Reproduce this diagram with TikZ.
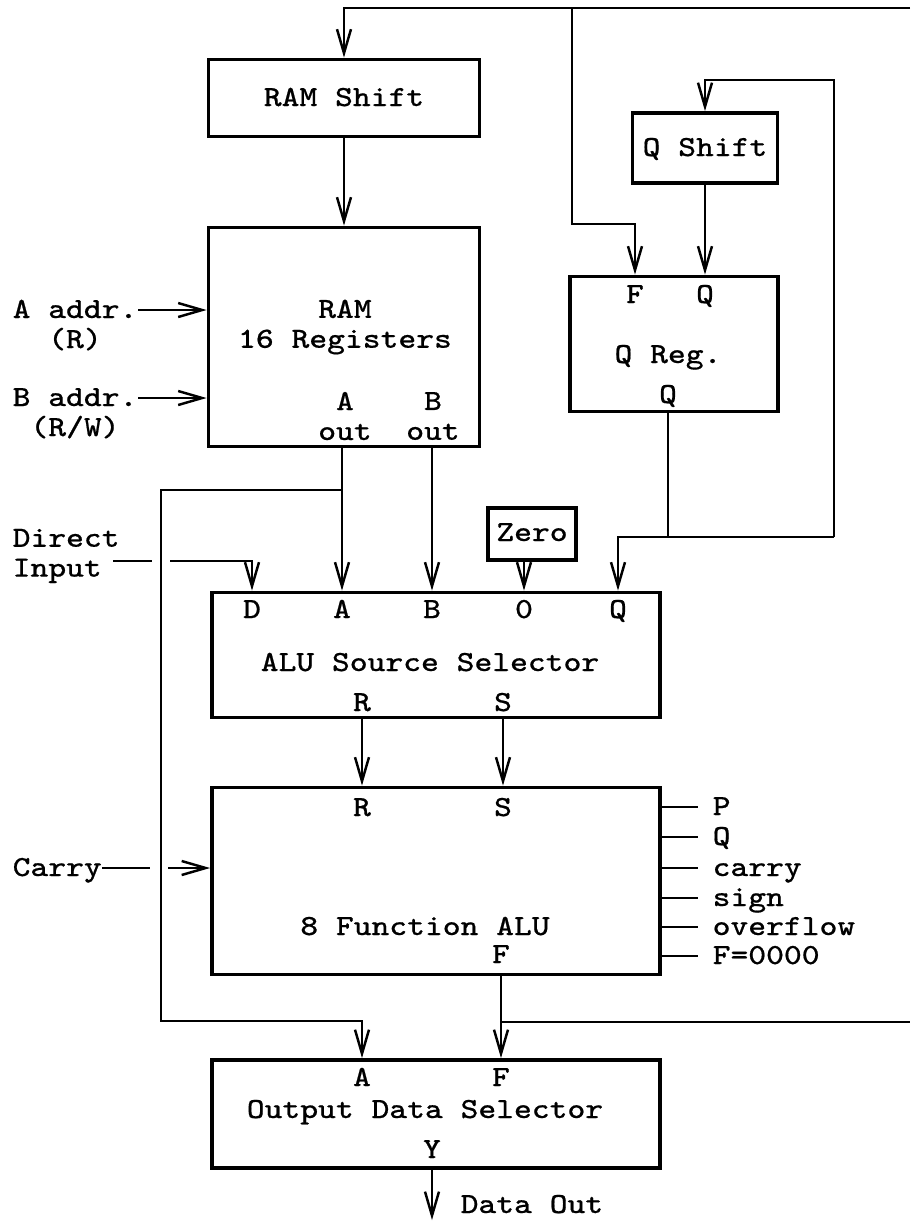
\documentclass[tikz,border=0pt]{standalone}
\usepackage{fontspec}
\setmonofont{Latin Modern Mono}[FakeStretch=1.15, FakeBold=0.6]
\usepackage{tikz}
\usetikzlibrary{arrows.meta,positioning}

\begin{document}
\begin{tikzpicture}[
  x=0.1mm, y=-0.1mm,
  font=\ttfamily\fontsize{8.3}{8.5}\selectfont,
  box/.style={draw, line width=1.1pt, inner sep=0pt},
  port/.style={inner sep=0pt, text height=1.6mm, text depth=0pt},
  txt/.style={inner sep=0pt, align=center},
  wire/.style={line width=0.7pt},
  arr/.style={-{Straight Barb[length=2.4mm, width=1.4mm]}, line width=0.7pt}
]
\useasboundingbox (0,0) rectangle (910,1222);
% blocks
\node[box, minimum width=27.1mm, minimum height=7.7mm] (RS) at (344,98) {};
\node[box, minimum width=27.1mm, minimum height=21.9mm] (RAM) at (344,337) {};
\node[box, minimum width=14.5mm, minimum height=7.0mm] (QS) at (705,148) {};
\node[box, minimum width=20.8mm, minimum height=13.5mm] (QR) at (674,344) {};
\node[box, minimum width=8.8mm, minimum height=5.2mm] (Z) at (532,534) {};
\node[box, minimum width=44.8mm, minimum height=12.5mm] (SRC) at (436,655) {};
\node[box, minimum width=44.8mm, minimum height=18.7mm] (ALU) at (436,881) {};
\node[box, minimum width=44.8mm, minimum height=10.8mm] (OUT) at (436,1114) {};
% texts in blocks
\node[port] (tRS) at (344,98) {RAM Shift};
\node[txt] (tRAM) at (345,327) {RAM\\16 Registers};
\node[port] (tQS) at (705,148) {Q Shift};
\node[port] (tQR) at (668,355) {Q Reg.};
\node[port] (tZ) at (532,533) {Zero};
\node[port] (tSRC) at (430,663) {ALU Source Selector};
\node[port] (tALU) at (425,927) {8 Function ALU};
\node[port] (tOUT) at (425,1110) {Output Data Selector};
% ports
\node[txt] (rA) at (345,416) {A\\out};
\node[txt] (rB) at (433,416) {B\\out};
\node[port] (qF) at (635,295) {F};
\node[port] (qQ) at (705,295) {Q};
\node[port] (qQo) at (668,395) {Q};
\node[port] (sD) at (252,610) {D};
\node[port] (sA) at (342,610) {A};
\node[port] (sB) at (432,610) {B};
\node[port] (sO) at (524,610) {0};
\node[port] (sQ) at (618,610) {Q};
\node[port] (sR) at (362,703) {R};
\node[port] (sS) at (503,703) {S};
\node[port] (aR) at (362,808) {R};
\node[port] (aS) at (503,808) {S};
\node[port] (aF) at (501,955) {F};
\node[port] (oA) at (362,1078) {A};
\node[port] (oF) at (501,1078) {F};
\node[port] (oY) at (432,1150) {Y};
% outside labels
\node[port, anchor=west] (Aad) at (12,310) {A addr.};
\node[port] (Aadr) at (75,340) {(R)};
\node[port, anchor=west] (Bad) at (12,398) {B addr.};
\node[port] (Badr) at (75,428) {(R/W)};
\node[txt, align=left, anchor=west] (DI) at (12,556) {Direct\\Input};
\node[port, anchor=west] (CY) at (12,868) {Carry};
\node[port, anchor=west] (fP) at (712,807) {P};
\node[port, anchor=west] (fQ) at (712,837) {Q};
\node[port, anchor=west] (fC) at (712,868) {carry};
\node[port, anchor=west] (fS) at (712,898) {sign};
\node[port, anchor=west] (fV) at (712,927) {overflow};
\node[port, anchor=west] (fZ) at (712,956) {F=0000};
\node[port, anchor=west] (DO) at (460,1205) {Data Out};
% bends and free ends
\coordinate (topR) at (910,8);
\coordinate (tapF) at (572,8);
\coordinate (bendF) at (572,224);
\coordinate (qsplit) at (834,537);
\coordinate (qtop) at (705,80);
\coordinate (aJ) at (342,490);
\coordinate (aL) at (161,490);
\coordinate (aD) at (161,1021);
\coordinate (dA) at (113,561);
\coordinate (dB) at (152,561);
\coordinate (dC) at (170,561);
\coordinate (cB) at (150,868);
\coordinate (cC) at (168,868);
\coordinate (fJ) at (501,1022);
\coordinate (fR) at (910,1022);
\coordinate (dout) at (432,1220);
% connectors
\draw[arr] (topR) -| (RS.north);
\draw[arr] (tapF) -- (bendF) -| (QR.north -| qF);
\draw[arr] (RS) -- (RAM);
\draw[arr] (QS) -- (QR.north -| qQ);
\draw[arr] (qsplit) |- (qtop) -- (QS.north);
\draw[wire] (QR.south -| qQo) -- (qQo |- qsplit);
\draw[arr] (qsplit) -| (SRC.north -| sQ);
\draw[arr] (Aad.east) -- (RAM.west |- Aad);
\draw[arr] (Bad.east) -- (RAM.west |- Bad);
\draw[arr] (RAM.south -| sA) -- (SRC.north -| sA);
\draw[arr] (RAM.south -| sB) -- (SRC.north -| sB);
\draw[arr] (aJ) -- (aL) -- (aD) -| (OUT.north -| oA);
\draw[wire] (dA) -- (dB);
\draw[arr] (dC) -| (SRC.north -| sD);
\draw[arr] (Z.south -| sO) -- (SRC.north -| sO);
\draw[arr] (SRC.south -| sR) -- (ALU.north -| aR);
\draw[arr] (SRC.south -| sS) -- (ALU.north -| aS);
\draw[wire] (CY.east) -- (cB);
\draw[arr] (cC) -- (ALU.west |- cC);
\draw[wire] (ALU.east |- fP) -- ++(36,0);
\draw[wire] (ALU.east |- fQ) -- ++(36,0);
\draw[wire] (ALU.east |- fC) -- ++(36,0);
\draw[wire] (ALU.east |- fS) -- ++(36,0);
\draw[wire] (ALU.east |- fV) -- ++(36,0);
\draw[wire] (ALU.east |- fZ) -- ++(36,0);
\draw[arr] (ALU.south -| aF) -- (OUT.north -| oF);
\draw[wire] (fJ) -- (fR);
\draw[arr] (OUT.south -| oY) -- (dout);
\end{tikzpicture}
\end{document}
